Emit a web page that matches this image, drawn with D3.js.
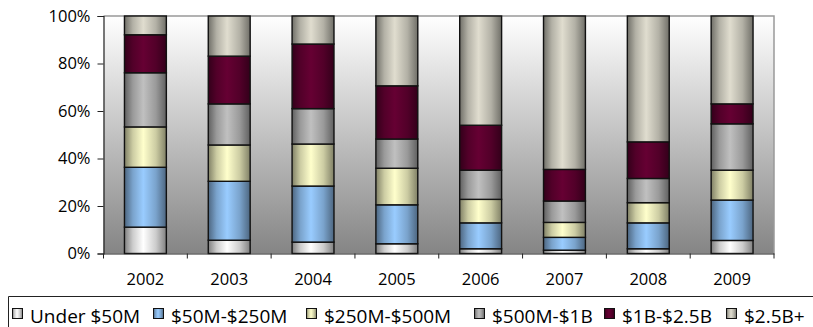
<!DOCTYPE html>
<html><head><meta charset="utf-8">
<script src="https://cdn.jsdelivr.net/npm/d3@7"></script>
<style>body{margin:0;background:#fff;}svg{display:block;font-family:"Open Sans",sans-serif;font-weight:400;}</style>
</head><body>
<script>
const years = ["2002","2003","2004","2005","2006","2007","2008","2009"];
const seriesNames = ["Under $50M","$50M-$250M","$250M-$500M","$500M-$1B","$1B-$2.5B","$2.5B+"];
const under50 = [11.1, 5.6, 4.8, 4.1, 2.0, 1.4, 2.0, 5.5];
const m50to250 = [25.2, 24.8, 23.6, 16.4, 10.9, 5.4, 10.9, 17.0];
const m250to500 = [17.0, 15.3, 17.7, 15.4, 9.9, 6.3, 8.5, 12.6];
const m500to1b = [22.8, 17.3, 14.9, 12.3, 12.3, 9.0, 10.2, 19.5];
const b1to25 = [16.0, 20.1, 27.2, 22.4, 18.9, 13.3, 15.4, 8.4];
const b25plus = [7.9, 16.9, 11.8, 29.4, 46.0, 64.6, 53.0, 37.0];
const yTicks = [0, 20, 40, 60, 80, 100];
const colors = ["#ffffff","#99ccff","#ffffcc","#c0c0c0","#660033","#e0ddcf"];

const allSeries = [under50, m50to250, m250to500, m500to1b, b1to25, b25plus];
const W = 813, H = 327;
const FONT = "'Open Sans',sans-serif";
const svg = d3.select("body").append("svg").attr("width", W).attr("height", H);
const defs = svg.append("defs");

const pL = 103.5, pR = 774, pT = 16, pB = 253.5;
const x = d3.scaleBand().domain(years).range([pL, pR]).paddingInner(0.5).paddingOuter(0.25);
const y = d3.scaleLinear().domain([0, 100]).range([pB, pT]);

// background gradient
const bg = defs.append("linearGradient").attr("id","bg").attr("x1",0).attr("y1",0).attr("x2",0).attr("y2",1);
bg.append("stop").attr("offset","0%").attr("stop-color","#ffffff");
bg.append("stop").attr("offset","100%").attr("stop-color","#858585");
svg.append("rect").attr("x",pL).attr("y",pT).attr("width",pR-pL).attr("height",pB-pT).attr("fill","url(#bg)");

// bar gradients
function shade(c, k){ const r = d3.rgb(c); return d3.rgb(r.r*k, r.g*k, r.b*k).formatHex(); }
colors.forEach((c,i)=>{
  const g = defs.append("linearGradient").attr("id","g"+i).attr("x1",0).attr("y1",0).attr("x2",1).attr("y2",0);
  g.append("stop").attr("offset","0%").attr("stop-color",shade(c,0.5));
  g.append("stop").attr("offset","20%").attr("stop-color",shade(c,0.8));
  g.append("stop").attr("offset","45%").attr("stop-color",c);
  g.append("stop").attr("offset","75%").attr("stop-color",shade(c,0.8));
  g.append("stop").attr("offset","100%").attr("stop-color",shade(c,0.5));
});

// frame: top & right gray
svg.append("path").attr("d",`M${pL},${pT}H${pR}V${pB}`).attr("fill","none").attr("stroke","#999").attr("stroke-width",1.5);

// stacked data
const table = years.map((yr,j)=>{ const o={year:yr}; seriesNames.forEach((s,i)=>o[s]=allSeries[i][j]); return o; });
const stack = d3.stack().keys(seriesNames)(table);
stack.forEach((layer,i)=>{
  svg.append("g").selectAll("rect").data(layer).join("rect")
    .attr("x", d=>x(d.data.year)).attr("width", x.bandwidth())
    .attr("y", d=>y(Math.min(100,d[1]))).attr("height", d=>y(d[0])-y(Math.min(100,d[1])))
    .attr("fill","url(#g"+i+")").attr("stroke","#111").attr("stroke-width",1.4);
});

// y axis
const ya = svg.append("g").attr("transform",`translate(${pL},0)`)
  .call(d3.axisLeft(y).tickValues(yTicks).tickFormat(d=>d+"%").tickSize(6).tickPadding(7));
ya.attr("font-family",FONT).attr("font-size",16.5);
ya.select(".domain").attr("stroke","#222").attr("stroke-width",1.2);
ya.selectAll(".tick line").attr("stroke","#222");
ya.selectAll("text").attr("fill","#000").attr("font-weight",400);

// x axis
const xa = svg.append("g").attr("transform",`translate(0,${pB})`)
  .call(d3.axisBottom(x).tickSize(0).tickPadding(20));
xa.attr("font-family",FONT).attr("font-size",16.5);
xa.select(".domain").attr("stroke","#222").attr("stroke-width",1.2);
xa.selectAll("text").attr("fill","#000").attr("font-weight",400);
const step = x.step();
const bounds = d3.range(years.length+1).map(i=>pL + i*step);
xa.selectAll("line.b").data(bounds).join("line").attr("class","b")
  .attr("x1",d=>d).attr("x2",d=>d).attr("y1",0).attr("y2",5).attr("stroke","#222");

// legend
svg.append("path").attr("d",`M${W+2},296.5H8.5V${H+2}`).attr("fill","none").attr("stroke","#222").attr("stroke-width",1);
const legX = [12, 153, 306, 474, 604, 726];
const lg = svg.append("g").attr("font-family",FONT).attr("font-size",19);
seriesNames.forEach((s,i)=>{
  lg.append("rect").attr("x",legX[i]+0.5).attr("y",308.5).attr("width",10).attr("height",10)
    .attr("fill","url(#g"+i+")").attr("stroke","#111").attr("stroke-width",1);
  lg.append("text").attr("x",legX[i]+18).attr("y",322.5).attr("fill","#000").attr("font-weight",400).text(s);
});
</script>
</body></html>
